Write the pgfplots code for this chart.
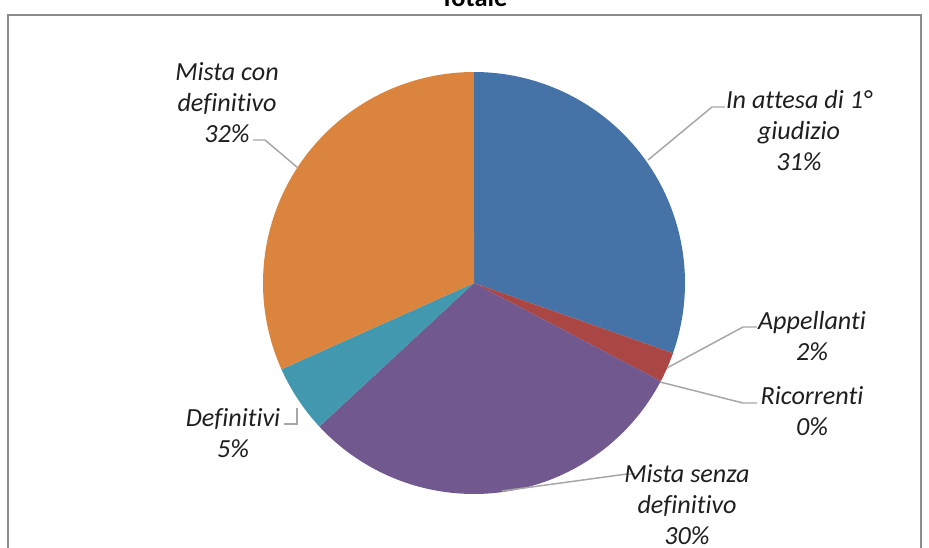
\documentclass[border=0pt]{standalone}
\usepackage{pgfplots}
\pgfplotsset{compat=1.18}
\usepackage{pgfplotstable}
\usepackage{fontspec}
\setmainfont{Carlito}[Ligatures=NoCommon]

% Excel 2007 palette
\definecolor{cBlue}{HTML}{4572A7}
\definecolor{cRed}{HTML}{AA4643}
\definecolor{cGreen}{HTML}{89A54E}
\definecolor{cPurple}{HTML}{71588F}
\definecolor{cTeal}{HTML}{4198AF}
\definecolor{cOrange}{HTML}{DB843D}
\definecolor{leader}{HTML}{A6A6A6}
\definecolor{frame}{HTML}{8C8C8C}

\tikzset{lbl/.style={font=\fontsize{19.6}{23.25}\selectfont\itshape, align=center, inner sep=0pt, text=black!88}}

% share of each category (percent)
\pgfplotstableread{
label value
InAttesa 30.4
Appellanti 2.3
Ricorrenti 0.0
MistaSenza 30.4
Definitivi 5.2
MistaCon 31.7
}\piedata

\begin{document}
\begin{tikzpicture}
% cumulative angles, clockwise from 12 o'clock
\pgfplotstablegetelem{0}{value}\of\piedata \pgfmathsetmacro\eA{3.6*\pgfplotsretval}
\pgfplotstablegetelem{1}{value}\of\piedata \pgfmathsetmacro\eB{\eA+3.6*\pgfplotsretval}
\pgfplotstablegetelem{2}{value}\of\piedata \pgfmathsetmacro\eC{\eB+3.6*\pgfplotsretval}
\pgfplotstablegetelem{3}{value}\of\piedata \pgfmathsetmacro\eD{\eC+3.6*\pgfplotsretval}
\pgfplotstablegetelem{4}{value}\of\piedata \pgfmathsetmacro\eE{\eD+3.6*\pgfplotsretval}
\pgfplotstablegetelem{5}{value}\of\piedata \pgfmathsetmacro\eF{\eE+3.6*\pgfplotsretval}
\begin{axis}[
    hide axis, scale only axis, clip=false,
    width=696.75pt, height=411pt,
    xmin=0, xmax=929, ymin=0, ymax=548, y dir=reverse,
    samples=80,
]
% frame and (cut) title
\draw[frame, line width=1.2pt] (axis cs:8,15) rectangle (axis cs:921,600);
\node[anchor=base, font=\fontsize{19.8}{23}\selectfont\bfseries] at (axis cs:474,7) {Totale};

% slices
\addplot[draw=none, fill=cBlue, domain=0:\eA] ({474+211*sin(x)},{283-211*cos(x)}) -- (axis cs:474,283) -- cycle;
\addplot[draw=none, fill=cRed, domain=\eA:\eB] ({474+211*sin(x)},{283-211*cos(x)}) -- (axis cs:474,283) -- cycle;
\addplot[draw=none, fill=cPurple, domain=\eC:\eD] ({474+211*sin(x)},{283-211*cos(x)}) -- (axis cs:474,283) -- cycle;
\addplot[draw=none, fill=cTeal, domain=\eD:\eE] ({474+211*sin(x)},{283-211*cos(x)}) -- (axis cs:474,283) -- cycle;
\addplot[draw=none, fill=cOrange, domain=\eE:\eF] ({474+211*sin(x)},{283-211*cos(x)}) -- (axis cs:474,283) -- cycle;

% leader lines
\draw[leader, line width=1.1pt] (axis cs:725,107) -- (axis cs:712,107) -- (axis cs:648,160);
\draw[leader, line width=1.1pt] (axis cs:757,327) -- (axis cs:743,327) -- (axis cs:667,368);
\draw[leader, line width=1.1pt] (axis cs:757,403) -- (axis cs:743,403) -- (axis cs:660,382);
\draw[leader, line width=1.1pt] (axis cs:635,474) -- (axis cs:627,474) -- (axis cs:502,491);
\draw[leader, line width=1.1pt] (axis cs:284,424) -- (axis cs:297,424) -- (axis cs:297,408);
\draw[leader, line width=1.1pt] (axis cs:253,140) -- (axis cs:265,140) -- (axis cs:298,168);

% data labels
\node[lbl] at (axis cs:799,131) {In attesa di 1°\\giudizio\\31\%};
\node[lbl] at (axis cs:812,336) {Appellanti\\2\%};
\node[lbl] at (axis cs:812,411) {Ricorrenti\\0\%};
\node[lbl] at (axis cs:687,505) {Mista senza\\definitivo\\30\%};
\node[lbl] at (axis cs:233,433) {Definitivi\\5\%};
\node[lbl] at (axis cs:227,103) {Mista con\\definitivo\\32\%};
\end{axis}
\pgfresetboundingbox
\path[use as bounding box] (current axis.south west) rectangle (current axis.north east);
\end{tikzpicture}
\end{document}
